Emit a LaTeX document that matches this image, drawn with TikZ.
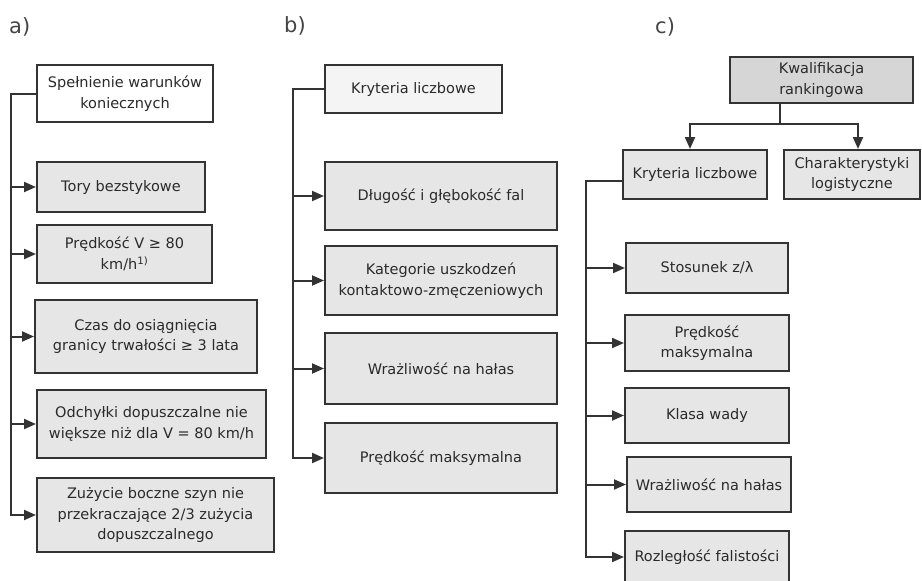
\documentclass[tikz,border=0pt]{standalone}
\usepackage{fontspec}
\setmainfont{DejaVu Sans}
\usetikzlibrary{arrows.meta}
\definecolor{boxline}{HTML}{333333}
\definecolor{boxfill}{HTML}{E6E6E6}
\definecolor{topfill}{HTML}{F4F4F4}
\definecolor{darkfill}{HTML}{D6D6D6}
\definecolor{textcol}{HTML}{2A2A2A}
\definecolor{labcol}{HTML}{444444}
\begin{document}
\begin{tikzpicture}[x=1pt,y=-1pt,
  box/.style={draw=boxline, line width=2pt, fill=boxfill, align=center,
    inner sep=1pt, text=textcol, font=\fontsize{14.5}{20.5}\selectfont},
  wbox/.style={box, fill=white},
  lbox/.style={box, fill=topfill},
  dbox/.style={box, fill=darkfill},
  trunk/.style={draw=boxline, line width=2pt},
  arr/.style={trunk, -{Triangle[length=12pt,width=10pt]}},
  lab/.style={text=labcol, font=\fontsize{21}{24}\selectfont, inner sep=0pt}]
\useasboundingbox (0,0) rectangle (922,581);

% labels
\node[lab, anchor=west] (la) at (9,27) {a)};
\node[lab, anchor=west] (lb) at (284,26) {b)};
\node[lab, anchor=west] (lc) at (655,27) {c)};

% ---------------- panel a
\node[wbox, minimum width=176, minimum height=57] (a0) at (125,93.5) {Spełnienie warunków\\koniecznych};
\node[box, minimum width=168, minimum height=50] (a1) at (121,187) {Tory bezstykowe};
\node[box, minimum width=175, minimum height=58] (a2) at (124.5,254) {Prędkość V ≥ 80\\km/h\textsuperscript{1)}};
\node[box, minimum width=222, minimum height=73] (a3) at (146,336.5) {Czas do osiągnięcia\\granicy trwałości ≥ 3 lata};
\node[box, minimum width=229, minimum height=68] (a4) at (151.5,424) {Odchyłki dopuszczalne nie\\większe niż dla V = 80 km/h};
\node[box, minimum width=237, minimum height=74] (a5) at (155.5,515) {Zużycie boczne szyn nie\\przekraczające 2/3 zużycia\\dopuszczalnego};
\coordinate (ta) at (11,93.5);
\draw[arr] (a0.west) -- (ta) |- (a5.west);
\foreach \n in {a1,a2,a3,a4} \draw[arr] (ta |- \n.west) -- (\n.west);

% ---------------- panel b
\node[lbox, minimum width=177, minimum height=48] (b0) at (413.5,89) {Kryteria liczbowe};
\node[box, minimum width=232, minimum height=68] (b1) at (441,196) {Długość i głębokość fal};
\node[box, minimum width=232, minimum height=69] (b2) at (441,280.5) {Kategorie uszkodzeń\\kontaktowo-zmęczeniowych};
\node[box, minimum width=232, minimum height=71] (b3) at (441,368.5) {Wrażliwość na hałas};
\node[box, minimum width=232, minimum height=70] (b4) at (441,458) {Prędkość maksymalna};
\coordinate (tb) at (293,89);
\draw[arr] (b0.west) -- (tb) |- (b4.west);
\foreach \n in {b1,b2,b3} \draw[arr] (tb |- \n.west) -- (\n.west);

% ---------------- panel c
\node[dbox, minimum width=183, minimum height=46] (c0) at (821.5,80) {Kwalifikacja\\rankingowa};
\node[box, minimum width=144, minimum height=49] (c1) at (695,174.5) {Kryteria liczbowe};
\node[box, minimum width=136, minimum height=49] (c2) at (852,174.5) {Charakterystyki\\logistyczne};
\coordinate (jc) at (780,124);
\coordinate (jl) at (690,124);
\coordinate (jr) at (858,124);
\draw[trunk] (c0.south -| jc) -- (jc);
\draw[trunk, line cap=rect] (jl) -- (jr);
\draw[arr] (jl) -- (jl |- c1.north);
\draw[arr] (jr) -- (jr |- c2.north);

\node[box, minimum width=162, minimum height=50] (c3) at (707,268) {Stosunek z/λ};
\node[box, minimum width=164, minimum height=56] (c4) at (707,343) {Prędkość\\maksymalna};
\node[box, minimum width=164, minimum height=55] (c5) at (707,415.5) {Klasa wady};
\node[box, minimum width=164, minimum height=55] (c6) at (709,484.5) {Wrażliwość na hałas};
\node[box, minimum width=164, minimum height=52] (c7) at (707,557) {Rozległość falistości};
\coordinate (tc) at (586,181);
\draw[arr] (c1.west |- tc) -- (tc) |- (c7.west);
\foreach \n in {c3,c4,c5,c6} \draw[arr] (tc |- \n.west) -- (\n.west);
\end{tikzpicture}
\end{document}
